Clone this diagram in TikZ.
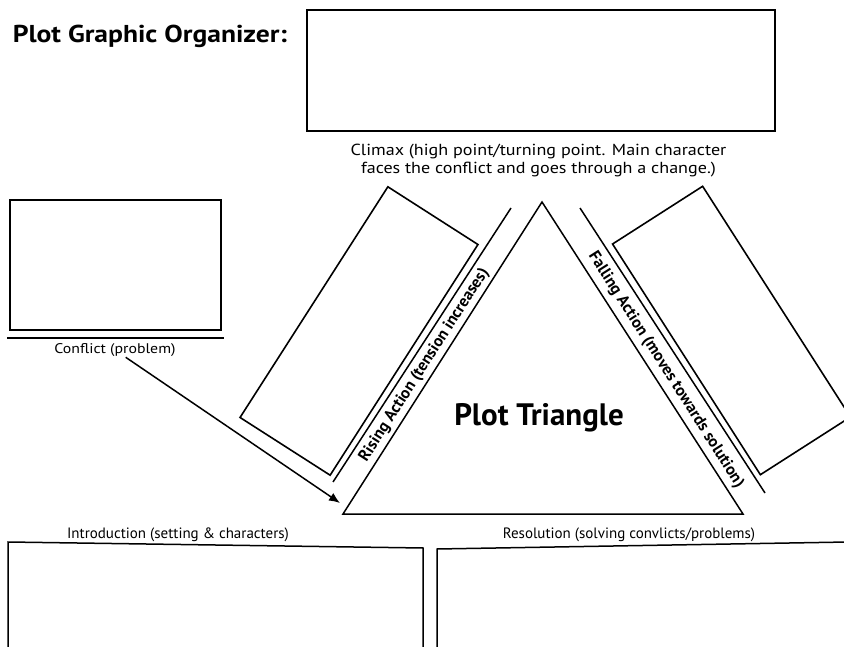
\documentclass[tikz,border=0pt]{standalone}
\usepackage{fontspec}
\setmainfont{PT Sans}
\newfontfamily\widefont[FakeStretch=1.13]{PT Sans}
\usetikzlibrary{arrows.meta}

\begin{document}
\begin{tikzpicture}[x=1pt,y=-1pt,
                    line width=1.5pt
                    ]
                % define styles
\tikzset{box/.style={rectangle,
                     draw=black,
                     line width=1.6pt,
                     inner sep=0,
                     },
         caption/.style={align=center,
                         inner sep=0,
                         font=\widefont\fontsize{16}{18.5}\selectfont,
                         },
         strip/.style={inner sep=0,
                       font=\bfseries\fontsize{16.3}{16.3}\selectfont,
                       },
         under/.style={inner sep=0,
                       anchor=base,
                       font=\fontsize{15}{15}\selectfont,
                       }
}

\useasboundingbox (0,0) rectangle (844,647);

% heading and climax box
\node[anchor=base west, inner sep=0, font=\widefont\bfseries\fontsize{24.4}{30}\selectfont]
    (title) at (12,43) {Plot Graphic Organizer:};
\node[box, minimum width=468pt, minimum height=121pt] (climaxbox) at (541,70.5) {};
\node[caption, anchor=north] (climax) at (538.5,143)
    {Climax (high point/turning point. Main character\\
     faces the conflict and goes through a change.)};

% conflict box
\node[box, minimum width=211pt, minimum height=130pt] (conflictbox) at (115.5,265) {};
\coordinate (rule-l) at (7,338);
\coordinate (rule-r) at (224,338);
\draw (rule-l) -- (rule-r);
\node[caption, font=\widefont\fontsize{14}{16}\selectfont] (conflict) at (115,350) {Conflict (problem)};

% triangle
\coordinate (apex)   at (542,202);
\coordinate (base-l) at (343,514);
\coordinate (base-r) at (743,514);
\draw[line join=miter] (apex) -- (base-l) -- (base-r) -- cycle;
\node[anchor=base, inner sep=0, font=\bfseries\fontsize{31}{31}\selectfont]
    (plottri) at (539,425) {Plot Triangle};

% rising action side
\coordinate (rise-a) at (333,482);
\coordinate (rise-b) at (511,208);
\draw (rise-a) -- (rise-b);
\node[box, minimum width=274pt, minimum height=107pt, rotate=57.35] (risebox) at (359,331) {};
\node[strip, rotate=57.3] (rising) at (424.5,365) {Rising Action (tension increases)};

% falling action side
\coordinate (fall-a) at (580,208);
\coordinate (fall-b) at (765,493);
\draw (fall-a) -- (fall-b);
\node[box, minimum width=274pt, minimum height=107pt, rotate=-57.35] (fallbox) at (731.5,330.5) {};
\node[strip, rotate=-57.5] (falling) at (666,370) {Falling Action (moves towards solution)};

% conflict leads into the triangle
\coordinate (tip) at (340,503);
\draw[-{Latex[length=11pt,width=9pt]}] (conflict) -- (tip);

% bottom boxes
\node[under] (intro) at (178,538) {Introduction (setting \& characters)};
\node[under] (resol) at (629,538) {Resolution (solving convlicts/problems)};
\draw (8,650) -- (8,542) -- (423,548) -- (423,650);
\draw (437,650) -- (437,549) -- (848,542);

\end{tikzpicture}
\end{document}
